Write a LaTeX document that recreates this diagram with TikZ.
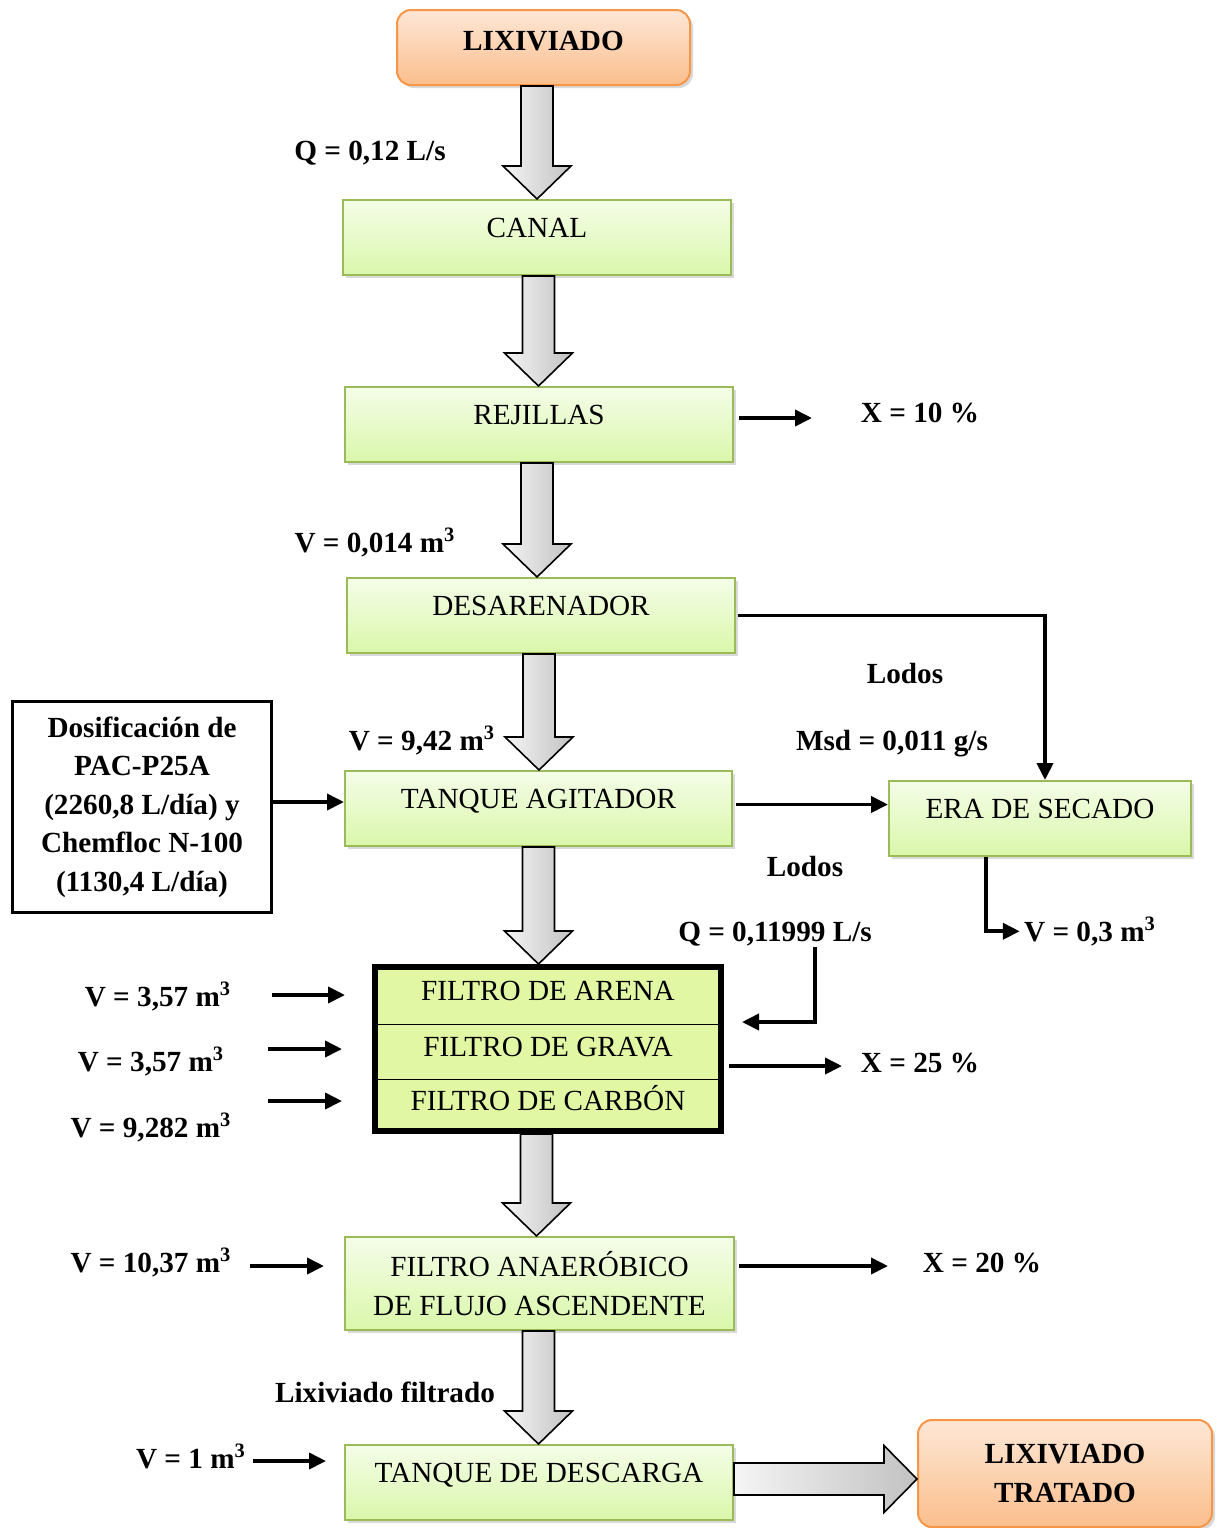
\documentclass[tikz,border=0pt]{standalone}
\usepackage{fontspec}
\setmainfont{Liberation Serif}
\usetikzlibrary{arrows.meta,shadows,calc}
\definecolor{gtop}{HTML}{F4FDE8}
\definecolor{gbot}{HTML}{DAF7AA}
\definecolor{gline}{HTML}{9BBB59}
\definecolor{otop}{HTML}{FDE7D6}
\definecolor{obot}{HTML}{FBBE8C}
\definecolor{oline}{HTML}{F79646}
\definecolor{ffill}{HTML}{E2F7A4}
\newcommand\bigdown[3]{%
  \path[bigarrow] let \p1=(#1.south), \p2=(#2.north), \p3=(#3,0) in
  (\x3-8pt,\y1) -- (\x3+8pt,\y1) -- (\x3+8pt,\y2+16.5pt) -- (\x3+17pt,\y2+16.5pt)
  -- (\x3,\y2) -- (\x3-17pt,\y2+16.5pt) -- (\x3-8pt,\y2+16.5pt) -- cycle;}
\tikzset{
  txt/.style={font=\fontsize{14.6}{19.25}\selectfont},
  bftxt/.style={font=\fontsize{14.6}{19.25}\selectfont\bfseries},
  shad/.style={drop shadow={shadow xshift=1.5pt,shadow yshift=-1.5pt,opacity=0.3}},
  gbox/.style={txt, draw=gline, line width=1pt, top color=gtop, bottom color=gbot,
    minimum height=37.5pt, inner sep=0pt, align=center, shad},
  one/.style={text height=10pt, text depth=10pt},
  obox/.style={bftxt, draw=oline, line width=1pt, rounded corners=7pt,
    top color=otop, bottom color=obot, inner sep=0pt, align=center, shad},
  lab/.style={bftxt, anchor=base, inner sep=2pt},
  conn/.style={line width=1.9pt, -{Triangle[length=8.5pt,width=8pt]}},
  bigarrow/.style={draw=black, line width=0.8pt, left color=gray!8, right color=gray!48},
  frow/.style={txt, minimum width=173pt, inner sep=0pt, text height=10pt, text depth=5pt}
}
\begin{document}
\begin{tikzpicture}[x=0.5pt,y=-0.5pt]
\useasboundingbox (0,0) rectangle (1221,1528);
% boxes
\node[obox, minimum width=146.5pt, minimum height=37.5pt, text height=10pt, text depth=7pt] (lix) at (543.5,47.5) {LIXIVIADO};
\node[gbox, one, minimum width=194pt] (canal) at (537,237.5) {CANAL};
\node[gbox, one, minimum width=194pt] (rej) at (539,424.5) {REJILLAS};
\node[gbox, one, minimum width=194pt] (des) at (541,615.5) {DESARENADOR};
\node[gbox, one, minimum width=193.5pt] (tanque) at (538.5,808.5) {TANQUE AGITADOR};
\node[gbox, one, minimum width=151pt] (era) at (1040,818.5) {ERA DE SECADO};
\node[draw, line width=1.75pt, fill=white, bftxt, minimum width=129.5pt, minimum height=105.5pt, inner sep=0pt, align=center] (dos) at (142,807)
  {Dosificación de\\PAC-P25A\\(2260,8 L/día) y\\Chemfloc N-100\\(1130,4 L/día)};
\node[draw, line width=3pt, fill=ffill, minimum width=173pt, minimum height=82pt, inner sep=0pt, shad] (filtros) at (548,1049) {};
\node[frow, minimum height=28.5pt] (fa) at (548,995.5) {FILTRO DE ARENA};
\node[frow, minimum height=27.5pt] (fg) at (548,1051.5) {FILTRO DE GRAVA};
\node[frow, minimum height=26pt] (fc) at (548,1105) {FILTRO DE CARBÓN};
\draw[line width=0.8pt] (fa.south west) -- (fa.south east);
\draw[line width=0.8pt] (fg.south west) -- (fg.south east);
\node[gbox, minimum width=194.5pt, minimum height=46.5pt] (fafa) at (539.5,1283.5) {FILTRO ANAERÓBICO\\DE FLUJO ASCENDENTE};
\node[gbox, one, minimum width=194pt] (tdd) at (539,1482.5) {TANQUE DE DESCARGA};
\node[obox, minimum width=147pt, minimum height=53.5pt] (trat) at (1065,1473.5) {LIXIVIADO\\TRATADO};
% labels
\node[lab] (q1) at (370,160) {Q = 0,12 L/s};
\node[lab] (x10) at (920,422) {X = 10 \%};
\node[lab] (v014) at (375,552) {V = 0,014 m\textsuperscript{3}};
\node[lab] (lod1) at (905,683) {Lodos};
\node[lab] (msd) at (892,750) {Msd = 0,011 g/s};
\node[lab] (v942) at (422,750) {V = 9,42 m\textsuperscript{3}};
\node[lab] (lod2) at (805,876) {Lodos};
\node[lab] (q2) at (775,941) {Q = 0,11999 L/s};
\node[lab] (v03) at (1090,941) {V = 0,3 m\textsuperscript{3}};
\node[lab] (va) at (158,1006) {V = 3,57 m\textsuperscript{3}};
\node[lab] (vb) at (151,1071) {V = 3,57 m\textsuperscript{3}};
\node[lab] (vc) at (151,1137) {V = 9,282 m\textsuperscript{3}};
\node[lab] (x25) at (920,1072) {X = 25 \%};
\node[lab] (v1037) at (151,1272) {V = 10,37 m\textsuperscript{3}};
\node[lab] (x20) at (982,1272) {X = 20 \%};
\node[lab] (lf) at (385,1402) {Lixiviado filtrado};
\node[lab] (v1) at (191,1468) {V = 1 m\textsuperscript{3}};
% big arrows
\bigdown{lix}{canal}{537}
\bigdown{canal}{rej}{538.5}
\bigdown{rej}{des}{537}
\bigdown{des}{tanque}{539}
\bigdown{tanque}{filtros}{538.5}
\bigdown{filtros}{fafa}{536.5}
\bigdown{fafa}{tdd}{538.5}
\path[bigarrow] let \p1=(tdd.east), \p2=(trat.west), \p3=(0,1479) in
  (\x1,\y3+8pt) -- (\x2-16.5pt,\y3+8pt) -- (\x2-16.5pt,\y3+16.75pt) -- (\x2,\y3)
  -- (\x2-16.5pt,\y3-16.75pt) -- (\x2-16.5pt,\y3-8pt) -- (\x1,\y3-8pt) -- cycle;
% thin connectors
\coordinate (c10) at (812,418);
\coordinate (c10s) at (c10 -| rej.east);
\draw[conn] ($(c10s)+(5,0)$) -- (c10);
\draw[conn] ($(des.east)+(2,0)$) -| ($(era.north)+(5,0)$);
\coordinate (d1) at ($(dos.east)+(0,-5)$);
\draw[conn] (d1) -- (d1 -| tanque.west);
\coordinate (t1) at ($(tanque.east)+(3,-4)$);
\draw[conn] (t1) -- (t1 -| era.west);
\draw[conn] ($(era.south)+(-54,0)$) |- (v03.west);
\coordinate (qs) at (815,947);
\coordinate (qin) at (742,1022);
\draw[conn] (qs) |- (qin);
\coordinate (f25) at (842,1066);
\coordinate (f25s) at (f25 -| filtros.east);
\draw[conn] ($(f25s)+(5,0)$) -- (f25);
\coordinate (ia1) at (272,995); \coordinate (ia2) at (345,995);
\coordinate (ib1) at (268,1049); \coordinate (ib2) at (342,1049);
\coordinate (ic1) at (268,1101); \coordinate (ic2) at (342,1101);
\draw[conn] (ia1) -- (ia2);
\draw[conn] (ib1) -- (ib2);
\draw[conn] (ic1) -- (ic2);
\coordinate (l1) at (250,1266); \coordinate (l2) at (324,1266);
\draw[conn] (l1) -- (l2);
\coordinate (r20) at (888,1266);
\coordinate (r20s) at (r20 -| fafa.east);
\draw[conn] ($(r20s)+(4,0)$) -- (r20);
\coordinate (w1) at (253,1461); \coordinate (w2) at (326,1461);
\draw[conn] (w1) -- (w2);
\end{tikzpicture}
\end{document}
